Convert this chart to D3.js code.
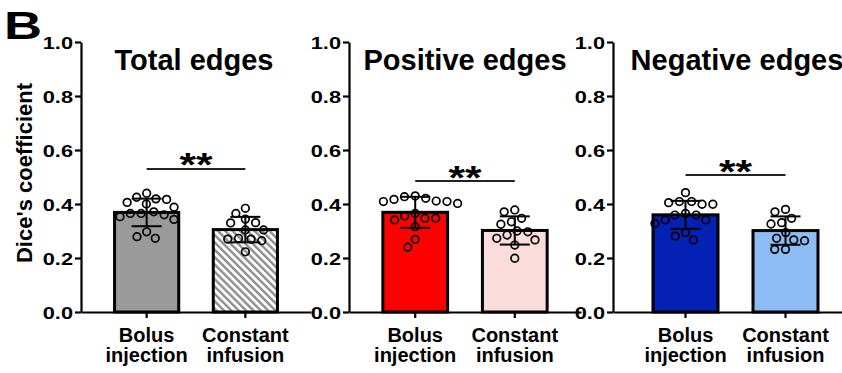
<!DOCTYPE html>
<html>
<head>
<meta charset="utf-8">
<script src="https://cdn.jsdelivr.net/npm/d3@7"></script>
<style>
  html, body { margin: 0; padding: 0; background: #fff; }
  svg { display: block; }
  text { font-family: "Liberation Sans", Arial, Helvetica, sans-serif; font-weight: bold; fill: #000; }
</style>
</head>
<body>
<svg id="chart" width="842" height="373"></svg>
<script>
// ---- data ----
const panelTitles = ["Total edges", "Positive edges", "Negative edges"];
const groups = ["Bolus injection", "Constant infusion"];
const groupLines = [["Bolus", "injection"], ["Constant", "infusion"]];
const yTicks = [0, 0.2, 0.4, 0.6, 0.8, 1.0];
const yLabel = "Dice's coefficient";
const panelLetter = "B";

const totalBolus       = [0.425, 0.419, 0.400, 0.406, 0.417, 0.440, 0.388, 0.365, 0.353, 0.343, 0.365, 0.371, 0.360, 0.297, 0.273, 0.279];
const totalConstant    = [0.384, 0.365, 0.344, 0.330, 0.331, 0.304, 0.304, 0.270, 0.273, 0.270, 0.264, 0.223];
const positiveBolus    = [0.427, 0.417, 0.409, 0.402, 0.409, 0.411, 0.421, 0.430, 0.347, 0.341, 0.356, 0.316, 0.347, 0.365, 0.269, 0.240];
const positiveConstant = [0.378, 0.371, 0.347, 0.334, 0.325, 0.297, 0.300, 0.267, 0.285, 0.248, 0.273, 0.199];
const negativeBolus    = [0.442, 0.409, 0.399, 0.405, 0.399, 0.409, 0.365, 0.359, 0.341, 0.328, 0.341, 0.359, 0.294, 0.267, 0.281];
const negativeConstant = [0.380, 0.371, 0.347, 0.326, 0.331, 0.294, 0.273, 0.264, 0.267, 0.232, 0.232];

// significance bracket height (in axis units) and its label, per panel
const sigLevel = [0.530, 0.485, 0.507];
const sigText = ["**", "**", "**"];

const seriesByPanel = [
  [totalBolus, totalConstant],
  [positiveBolus, positiveConstant],
  [negativeBolus, negativeConstant]
];

// ---- layout & style ----
const panels = [
  { left: 81,  width: 230, outer: 0.34, titleX: 194 },
  { left: 349, width: 232, outer: 0.34, titleX: 465 },
  { left: 613, width: 245, outer: 0.40, titleX: 737 }
];
const fills = [
  ["#9a9a9a", "url(#hatch)"],
  ["#ff0000", "#fbdcdc"],
  ["#0421b6", "#8dbcf4"]
];
const yTop = 42, yBottom = 312;
const dotR = 3.8, dotGap = 10.8, capW = 30;

const svg = d3.select("#chart");

// diagonal hatch for the constant-infusion bar of the first panel
const defs = svg.append("defs");
const pat = defs.append("pattern")
  .attr("id", "hatch")
  .attr("patternUnits", "userSpaceOnUse")
  .attr("width", 5.2).attr("height", 5.2)
  .attr("patternTransform", "rotate(-45)");
pat.append("rect").attr("width", 5.2).attr("height", 5.2).attr("fill", "#fff");
pat.append("rect").attr("x", 0).attr("width", 2.4).attr("height", 5.2).attr("fill", "#8e8e8e");

const y = d3.scaleLinear().domain([0, 1]).range([yBottom, yTop]);

// beeswarm: place each point at the horizontal offset nearest the centre
function swarm(values, d) {
  const idx = values.map((v, i) => i).sort((a, b) => values[b] - values[a]);
  const placed = [];
  const out = new Array(values.length);
  idx.forEach(i => {
    const py = y(values[i]);
    const intervals = [];
    placed.forEach(p => {
      const dy = Math.abs(p.y - py);
      if (dy < d) {
        const dx = Math.sqrt(d * d - dy * dy);
        intervals.push([p.x - dx, p.x + dx]);
      }
    });
    const cands = [0];
    intervals.forEach(iv => { cands.push(iv[0], iv[1]); });
    cands.sort((a, b) => Math.abs(a) - Math.abs(b) || a - b);
    let x = 0;
    for (const c of cands) {
      if (intervals.every(iv => c <= iv[0] + 1e-6 || c >= iv[1] - 1e-6)) { x = c; break; }
    }
    placed.push({ x, y: py });
    out[i] = x;
  });
  return out;
}

panels.forEach((p, pi) => {
  const g = svg.append("g");
  const x = d3.scaleBand()
    .domain(groups)
    .range([p.left, p.left + p.width])
    .paddingInner(0.35)
    .paddingOuter(p.outer);

  // y axis
  const yAxis = g.append("g")
    .attr("transform", `translate(${p.left},0)`)
    .call(d3.axisLeft(y).tickValues(yTicks).tickFormat(d3.format(".1f")).tickSize(6).tickSizeOuter(0));
  yAxis.select(".domain").attr("stroke", "#000").attr("stroke-width", 2.2);
  yAxis.selectAll(".tick line").attr("stroke", "#000").attr("stroke-width", 2.2);
  yAxis.selectAll(".tick text")
    .attr("x", null).attr("dy", null)
    .attr("transform", "translate(-8,6) scale(1.28,1)")
    .style("font-size", "17px")
    .style("font-family", "'Liberation Sans', Arial, sans-serif")
    .style("font-weight", "bold")
    .attr("fill", "#000");

  // x axis
  const xAxis = g.append("g")
    .attr("transform", `translate(0,${yBottom})`)
    .call(d3.axisBottom(x).tickSize(6).tickSizeOuter(0).tickFormat(""));
  xAxis.select(".domain").attr("stroke", "#000").attr("stroke-width", 2.2);
  xAxis.selectAll(".tick line").attr("stroke", "#000").attr("stroke-width", 2.2);

  // two-line group labels
  groups.forEach((grp, gi) => {
    const t = g.append("text")
      .attr("x", x(grp) + x.bandwidth() / 2)
      .attr("y", 341.5)
      .attr("text-anchor", "middle")
      .style("font-size", "20px");
    groupLines[gi].forEach((line, li) => {
      t.append("tspan")
        .attr("x", x(grp) + x.bandwidth() / 2)
        .attr("dy", li === 0 ? 0 : 20)
        .text(line);
    });
  });

  // bars, points, error bars
  seriesByPanel[pi].forEach((vals, gi) => {
    const grp = groups[gi];
    const cx = x(grp) + x.bandwidth() / 2;
    const mean = d3.mean(vals);
    const sd = d3.deviation(vals);

    g.append("rect")
      .attr("x", x(grp))
      .attr("y", y(mean))
      .attr("width", x.bandwidth())
      .attr("height", y(0) - y(mean))
      .attr("fill", fills[pi][gi])
      .attr("stroke", "#000")
      .attr("stroke-width", 3);

    const offs = swarm(vals, dotGap);
    g.selectAll(null)
      .data(vals)
      .join("circle")
      .attr("cx", (d, i) => cx + offs[i])
      .attr("cy", d => y(d))
      .attr("r", dotR)
      .attr("fill", "none")
      .attr("stroke", "#000")
      .attr("stroke-width", 1.7);

    const eb = g.append("g").attr("stroke", "#000").attr("stroke-width", 2);
    eb.append("line").attr("x1", cx).attr("x2", cx).attr("y1", y(mean - sd)).attr("y2", y(mean + sd));
    [mean - sd, mean + sd].forEach(v => {
      eb.append("line").attr("x1", cx - capW / 2).attr("x2", cx + capW / 2).attr("y1", y(v)).attr("y2", y(v));
    });
  });

  // significance bracket
  const c0 = x(groups[0]) + x.bandwidth() / 2;
  const c1 = x(groups[1]) + x.bandwidth() / 2;
  const sy = y(sigLevel[pi]);
  g.append("line")
    .attr("x1", c0).attr("x2", c1).attr("y1", sy).attr("y2", sy)
    .attr("stroke", "#222").attr("stroke-width", 2);
  g.append("text")
    .attr("transform", `translate(${(c0 + c1) / 2},${sy + 7.5}) scale(1.25,1)`)
    .attr("text-anchor", "middle")
    .style("font-size", "34px")
    .text(sigText[pi]);

  // panel title
  g.append("text")
    .attr("x", p.titleX)
    .attr("y", 70)
    .attr("text-anchor", "middle")
    .style("font-size", "29px")
    .text(panelTitles[pi]);
});

// shared y-axis label
svg.append("text")
  .attr("transform", "translate(32,173) rotate(-90)")
  .attr("text-anchor", "middle")
  .style("font-size", "22px")
  .text(yLabel);

// panel letter
svg.append("text")
  .attr("transform", "translate(4,39) scale(1.35,1)")
  .style("font-size", "39px")
  .text(panelLetter);
</script>
</body>
</html>
